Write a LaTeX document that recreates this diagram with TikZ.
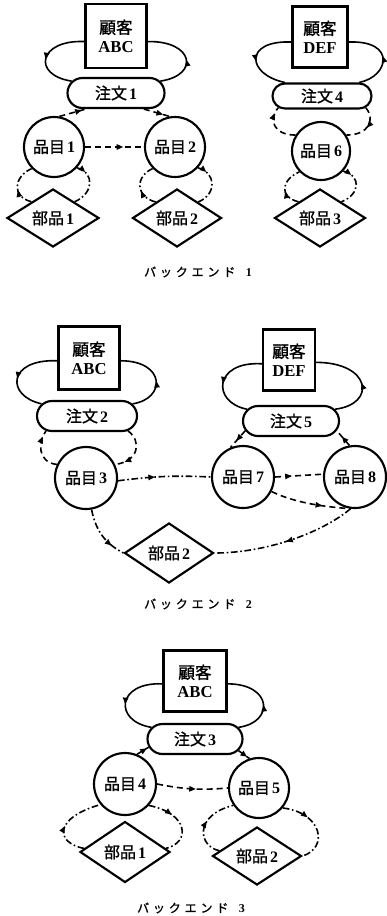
\documentclass[tikz,border=0pt]{standalone}
\usepackage{fontspec}
\setmainfont{Liberation Serif}
\newfontfamily\jpfont{Noto Sans CJK JP}[FakeBold=1.2]
\usetikzlibrary{shapes.misc,shapes.geometric,decorations.markings,arrows.meta}

% label: Japanese word followed by a bold number
\newcommand\jlabel[2]{{\jpfont #1}\hspace{1.5pt}\textbf{#2}}
% panel caption
\newcommand\capt[1]{{\jpfont\addfontfeature{LetterSpace=32}バックエンド}\hspace{5pt}\textbf{#1}}

\begin{document}
\begin{tikzpicture}[x=0.75pt,y=0.75pt,
  every node/.style={font=\fontsize{12}{14}\selectfont},
  custbox/.style 2 args={draw, line width=1.6pt, rectangle, inner sep=0pt,
    minimum width=#1*0.75pt, minimum height=#2*0.75pt, align=center,
    font=\fontsize{12.5}{14}\selectfont},
  ordbox/.style 2 args={draw, line width=1.6pt, rounded rectangle, inner sep=0pt,
    minimum width=#1*0.75pt, minimum height=#2*0.75pt},
  itemnode/.style={draw, line width=1.6pt, circle, inner sep=0pt,
    minimum size=#1*1.5pt},
  partnode/.style 2 args={draw, line width=1.6pt, diamond, aspect=1.6, inner sep=0pt,
    minimum width=#1*0.75pt, minimum height=#2*0.75pt},
  captext/.style={font=\fontsize{9}{10}\selectfont},
  link/.style={line width=1.2pt},
  dashlink/.style={link, dash pattern=on 4.5pt off 3pt},
  dotlink/.style={link, dash pattern=on 5pt off 2pt on 1.2pt off 2pt},
  arr/.style={postaction={decorate}, decoration={markings,
    mark=at position #1 with {\arrow{Triangle[length=5pt,width=4pt]}}}}
]
\useasboundingbox (0,0) rectangle (386,-916);
\fill[white] (0,0) rectangle (386,-916);

% ---------------- back end 1 ----------------
\node[custbox={61}{64}] (c1) at (116,-36) {{\jpfont 顧客}\\\textbf{ABC}};
\node[ordbox={97}{30}] (o1) at (116,-93) {\jlabel{注文}{1}};
\node[itemnode=30] (i1) at (54,-147) {\jlabel{品目}{1}};
\node[itemnode=30] (i2) at (175,-147) {\jlabel{品目}{2}};
\node[partnode={92}{58}] (p1) at (53,-218) {\jlabel{部品}{1}};
\node[partnode={89}{58}] (p2) at (177,-218) {\jlabel{部品}{2}};
\node[custbox={55}{61}] (c4) at (320,-37) {{\jpfont 顧客}\\\textbf{DEF}};
\node[ordbox={99}{25}] (o4) at (322,-96) {\jlabel{注文}{4}};
\node[itemnode=29] (i6) at (321,-151) {\jlabel{品目}{6}};
\node[partnode={91}{58}] (p3) at (320,-218) {\jlabel{部品}{3}};
\node[captext] (cap1) at (198,-272) {\capt{1}};

\draw[link, arr=0.55] (c1.190) .. controls +(-46,2) and +(-40,6) .. (o1.165);
\draw[link, arr=0.45] (o1.15) .. controls +(40,6) and +(46,1) .. (c1.350);
\draw[dashlink, arr=0.85] (i1.80) -- (o1.208);
\draw[dashlink, arr=0.75] (o1.330) -- (i2.100);
\draw[dashlink, arr=0.65] (i1.east) -- (i2.west);
\draw[dotlink, arr=0.4] (p1.143) .. controls +(-20,5) and +(-18,-8) .. (i1.224);
\draw[dotlink, arr=0.2] (i1.318) .. controls +(18,-5) and +(19,8) .. (p1.37);
\draw[dotlink, arr=0.4] (p2.143) .. controls +(-20,5) and +(-18,-8) .. (i2.224);
\draw[dotlink, arr=0.2] (i2.318) .. controls +(18,-5) and +(19,8) .. (p2.37);

\draw[link, arr=0.55] (c4.190) .. controls +(-48,2) and +(-38,8) .. (o4.160);
\draw[link, arr=0.5] (o4.20) .. controls +(30,6) and +(48,2) .. (c4.350);
\draw[dashlink, arr=0.85] (i6.148) .. controls +(-22,0) and +(-10,-12) .. (o4.195);
\draw[dashlink, arr=0.5] (o4.345) .. controls +(10,-12) and +(22,0) .. (i6.32);
\draw[dotlink, arr=0.4] (p3.143) .. controls +(-20,5) and +(-18,-8) .. (i6.224);
\draw[dotlink, arr=0.2] (i6.318) .. controls +(18,-5) and +(19,8) .. (p3.37);

% ---------------- back end 2 ----------------
\node[custbox={61}{63}] (c2) at (89,-358) {{\jpfont 顧客}\\\textbf{ABC}};
\node[ordbox={100}{30}] (o2) at (87,-416) {\jlabel{注文}{2}};
\node[itemnode=31] (i3) at (86,-478) {\jlabel{品目}{3}};
\node[custbox={52}{61}] (c5) at (289,-360) {{\jpfont 顧客}\\\textbf{DEF}};
\node[ordbox={96}{30}] (o5) at (291,-421) {\jlabel{注文}{5}};
\node[itemnode=31] (i7) at (243,-477) {\jlabel{品目}{7}};
\node[itemnode=31] (i8) at (355,-477) {\jlabel{品目}{8}};
\node[partnode={89}{60}] (p4) at (169,-553) {\jlabel{部品}{2}};
\node[captext] (cap2) at (198,-604) {\capt{2}};

\draw[link, arr=0.55] (c2.185) .. controls +(-50,2) and +(-36,8) .. (o2.165);
\draw[link, arr=0.45] (o2.15) .. controls +(34,5) and +(45,0) .. (c2.355);
\draw[dashlink, arr=0.85] (i3.155) .. controls +(-20,2) and +(-8,-10) .. (o2.200);
\draw[dashlink, arr=0.8] (o2.340) .. controls +(14,-10) and +(24,3) .. (i3.25);

\draw[link, arr=0.55] (c5.188) .. controls +(-48,3) and +(-36,7) .. (o5.165);
\draw[link, arr=0.45] (o5.15) .. controls +(42,5) and +(55,0) .. (c5.355);
\draw[dashlink, arr=0.6] (o5.192) -- (i7.113);
\draw[dashlink, arr=0.6] (i8.100) -- (o5.348);

\draw[dotlink, arr=0.4] (i3.355) to[bend left=5] (i7.west);
\draw[dashlink, arr=0.35] (i7.east) -- (i8.175);
\draw[dashlink, arr=0.65] (i7.333) .. controls +(25,-12) and +(-25,2) .. (i8.262);
\draw[dotlink, arr=0.5] (i8.262) .. controls +(-30,-25) and +(50,0) .. (p4.east);
\draw[dotlink, arr=0.75] (i3.280) .. controls +(5,-25) and +(-15,8) .. (p4.west);

% ---------------- back end 3 ----------------
\node[custbox={63}{61}] (c3) at (195,-681) {{\jpfont 顧客}\\\textbf{ABC}};
\node[ordbox={95}{30}] (o3) at (195,-739) {\jlabel{注文}{3}};
\node[itemnode=31] (i4) at (125,-784) {\jlabel{品目}{4}};
\node[itemnode=30] (i5) at (259,-788) {\jlabel{品目}{5}};
\node[partnode={90}{61}] (p5) at (125,-852) {\jlabel{部品}{1}};
\node[partnode={89}{58}] (p6) at (257,-856) {\jlabel{部品}{2}};
\node[captext] (cap3) at (191,-908) {\capt{3}};

\draw[link, arr=0.55] (c3.185) .. controls +(-46,2) and +(-38,6) .. (o3.165);
\draw[link, arr=0.45] (o3.15) .. controls +(36,5) and +(45,0) .. (c3.355);
\draw[dashlink, arr=0.85] (i4.68) -- (o3.190);
\draw[dashlink, arr=0.8] (o3.345) -- (i5.108);
\draw[dashlink, arr=0.55] (i4.east) to[bend right=8] (i5.west);
\draw[dotlink, arr=0.45] (p5.175) .. controls +(-30,6) and +(-46,-13) .. (i4.220);
\draw[dotlink, arr=0.35] (i4.318) .. controls +(40,-8) and +(25,6) .. (p5.5);
\draw[dotlink, arr=0.55] (p6.172) .. controls +(-21,4) and +(-40,-10) .. (i5.214);
\draw[dotlink, arr=0.35] (i5.320) .. controls +(40,-5) and +(26,8) .. (p6.east);
\end{tikzpicture}
\end{document}
